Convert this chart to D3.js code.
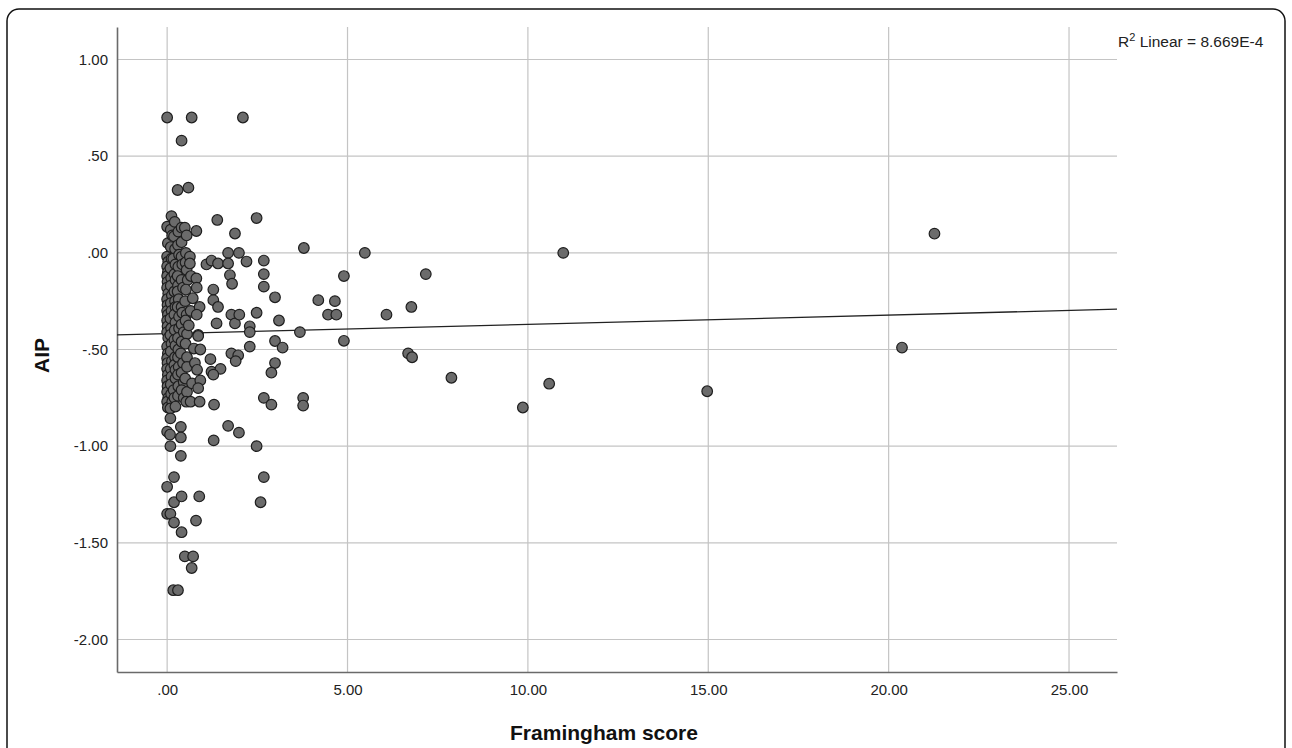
<!DOCTYPE html>
<html>
<head>
<meta charset="utf-8">
<script src="https://cdn.jsdelivr.net/npm/d3@7"></script>
<style>
  body { margin: 0; background: #fff; }
  svg { display: block; font-family: "Liberation Sans", Arial, sans-serif; }
</style>
</head>
<body>
<div id="chart"></div>
<script>
// tick values
const xTicks = [0, 5, 10, 15, 20, 25];
const yTicks = [1, 0.5, 0, -0.5, -1, -1.5, -2];

// fit line (from SPSS output)
const fitIntercept = -0.418;
const fitSlope = 0.0048;
const r2Text = "8.669E-4";

// [Framingham score, AIP]
const scores = [
  // x ~ 0
  [0, 0.70], [0, 0.135], [0.02, 0.05], [0, -0.02], [0.03, -0.045], [0, -0.07], [0.02, -0.1], [0, -0.12],
  [0.01, -0.15], [0, -0.18], [0.03, -0.21], [0, -0.24], [0.01, -0.27], [0, -0.30], [0.02, -0.32],
  [0, -0.35], [0.01, -0.38], [0, -0.41], [0.03, -0.44], [0, -0.485], [0.02, -0.52], [0, -0.545],
  [0.01, -0.57], [0, -0.6], [0.02, -0.63], [0, -0.66], [0.01, -0.69], [0, -0.72], [0.03, -0.75],
  [0, -0.77], [0.02, -0.80], [0, -0.925], [0, -1.21], [0, -1.35],
  // x ~ 0.1
  [0.12, 0.19], [0.1, 0.12], [0.14, 0.09], [0.1, 0.03], [0.12, -0.03], [0.09, -0.08], [0.11, -0.13],
  [0.1, -0.17], [0.13, -0.22], [0.1, -0.26], [0.12, -0.3], [0.09, -0.34], [0.11, -0.39], [0.09, -0.425],
  [0.12, -0.47], [0.1, -0.51], [0.13, -0.56], [0.1, -0.6], [0.12, -0.64], [0.1, -0.68], [0.11, -0.73],
  [0.14, -0.77], [0.09, -0.805], [0.09, -0.856], [0.08, -0.94], [0.09, -1.0], [0.09, -1.35],
  // x ~ 0.2
  [0.21, 0.16], [0.19, 0.085], [0.22, 0.02], [0.17, -0.03], [0.23, -0.06], [0.2, -0.11], [0.23, -0.14],
  [0.2, -0.2], [0.22, -0.25], [0.23, -0.28], [0.2, -0.32], [0.23, -0.36], [0.21, -0.4], [0.2, -0.45],
  [0.23, -0.48], [0.22, -0.54], [0.2, -0.58], [0.23, -0.605], [0.23, -0.65], [0.18, -0.71],
  [0.2, -0.75], [0.23, -0.795], [0.19, -1.16], [0.19, -1.29], [0.19, -1.395], [0.17, -1.745],
  // x ~ 0.3
  [0.29, 0.325], [0.31, 0.11], [0.3, 0.04], [0.33, -0.01], [0.31, -0.072], [0.29, -0.12], [0.3, -0.17],
  [0.29, -0.2], [0.32, -0.24], [0.29, -0.28], [0.33, -0.33], [0.33, -0.39], [0.3, -0.44], [0.31, -0.5],
  [0.3, -0.54], [0.32, -0.59], [0.3, -0.63], [0.31, -0.69], [0.3, -0.74], [0.3, -1.745],
  // x ~ 0.4
  [0.40, 0.58], [0.4, 0.13], [0.4, 0.055], [0.4, -0.02], [0.42, -0.06], [0.4, -0.14], [0.44, -0.18],
  [0.4, -0.28], [0.42, -0.31], [0.4, -0.37], [0.46, -0.41], [0.4, -0.46], [0.38, -0.52], [0.44, -0.57],
  [0.4, -0.62], [0.46, -0.67], [0.4, -0.71], [0.46, -0.75], [0.38, -0.9], [0.38, -0.955],
  [0.38, -1.05], [0.4, -1.26], [0.4, -1.445],
  // x ~ 0.5
  [0.49, 0.13], [0.54, 0.09], [0.52, 0.0], [0.51, -0.05], [0.54, -0.089], [0.57, -0.14], [0.52, -0.19],
  [0.5, -0.25], [0.54, -0.32], [0.51, -0.35], [0.55, -0.42], [0.51, -0.47], [0.55, -0.54], [0.55, -0.59],
  [0.5, -0.65], [0.55, -0.72], [0.53, -0.77], [0.49, -1.57],
  // x ~ 0.6 - 0.7
  [0.59, 0.337], [0.68, 0.70], [0.63, -0.02], [0.63, -0.055], [0.66, -0.12], [0.71, -0.235],
  [0.65, -0.3], [0.6, -0.375], [0.74, -0.495], [0.69, -0.675], [0.65, -0.77], [0.72, -1.57], [0.68, -1.63],
  // x ~ 0.8 - 0.9
  [0.81, 0.113], [0.81, -0.132], [0.82, -0.18], [0.9, -0.28], [0.82, -0.32], [0.86, -0.425],
  [0.86, -0.43], [0.92, -0.5], [0.77, -0.57], [0.83, -0.605], [0.92, -0.66], [0.86, -0.70],
  [0.9, -0.77], [0.89, -1.26], [0.8, -1.385],
  // x 1 - 2.5
  [1.09, -0.06], [1.23, -0.04], [1.41, -0.055], [1.39, 0.17], [1.28, -0.19], [1.28, -0.245],
  [1.41, -0.28], [1.37, -0.365], [1.2, -0.55], [1.23, -0.615], [1.48, -0.6], [1.28, -0.63],
  [1.3, -0.785], [1.29, -0.97], [1.69, 0.0], [1.69, -0.055], [1.74, -0.115], [1.8, -0.16],
  [1.78, -0.32], [1.88, -0.365], [1.78, -0.52], [1.97, -0.53], [1.9, -0.56], [1.69, -0.895],
  [1.88, 0.10], [1.99, 0.0], [2.0, -0.32], [1.99, -0.93], [2.1, 0.70], [2.2, -0.045],
  [2.29, -0.38], [2.29, -0.41], [2.29, -0.485], [2.48, 0.18], [2.48, -0.31], [2.48, -1.0],
  // x 2.5 - 5
  [2.68, -0.04], [2.68, -0.11], [2.68, -0.175], [2.68, -0.75], [2.68, -1.16], [2.59, -1.29],
  [2.99, -0.23], [3.1, -0.35], [2.99, -0.456], [3.2, -0.49], [2.99, -0.57], [2.89, -0.62],
  [2.89, -0.785], [3.79, 0.025], [3.68, -0.41], [3.77, -0.75], [3.77, -0.79],
  [4.19, -0.245], [4.65, -0.25], [4.46, -0.32], [4.69, -0.32], [4.9, -0.12], [4.9, -0.455],
  // x > 5
  [5.48, 0.0], [6.08, -0.32], [6.77, -0.28], [6.68, -0.52], [6.79, -0.54], [7.17, -0.11],
  [7.88, -0.646], [9.86, -0.80], [10.59, -0.677], [10.98, 0.0], [14.97, -0.716],
  [20.37, -0.49], [21.27, 0.099]
];

const W = 1292, H = 748;
const plot = {left: 117, right: 1117, top: 27, bottom: 672};

const svg = d3.select("#chart").append("svg")
  .attr("width", W)
  .attr("height", H);

// outer frame with rounded corners
svg.append("rect")
  .attr("x", 7).attr("y", 9)
  .attr("width", 1278).attr("height", 760)
  .attr("rx", 12)
  .style("fill", "none")
  .style("stroke", "#111")
  .style("stroke-width", 1.5);

const x = d3.scaleLinear()
  .domain([-1.39, 26.33])
  .range([plot.left, plot.right]);

const y = d3.scaleLinear()
  .domain([-2.168, 1.168])
  .range([plot.bottom, plot.top]);

// SPSS style: no leading zero, plain hyphen
const fmt = d => {
  let s = d3.format(".2f")(d).replace("\u2212", "-");
  return s.replace(/^(-?)0\./, "$1.");
};

// grid
const grid = svg.append("g");
grid.selectAll("line.h").data(yTicks).join("line")
  .attr("class", "h")
  .attr("x1", plot.left).attr("x2", plot.right)
  .attr("y1", d => y(d)).attr("y2", d => y(d))
  .style("stroke", "#c4c4c4").style("stroke-width", 1.2);
grid.selectAll("line.v").data(xTicks).join("line")
  .attr("class", "v")
  .attr("y1", plot.top).attr("y2", plot.bottom)
  .attr("x1", d => x(d)).attr("x2", d => x(d))
  .style("stroke", "#c4c4c4").style("stroke-width", 1.2);

// axes
const xAxis = svg.append("g")
  .attr("transform", `translate(0,${plot.bottom})`)
  .call(d3.axisBottom(x).tickValues(xTicks).tickFormat(fmt).tickSize(0).tickPadding(12));
const yAxis = svg.append("g")
  .attr("transform", `translate(${plot.left},0)`)
  .call(d3.axisLeft(y).tickValues(yTicks).tickFormat(fmt).tickSize(0).tickPadding(9));
[xAxis, yAxis].forEach(a => {
  a.select(".domain").style("stroke", "#6a6a6a").style("stroke-width", 1.6);
  a.selectAll("text")
    .style("font-family", "'Liberation Sans', Arial, sans-serif")
    .style("font-size", "15px")
    .style("fill", "#222");
});

// fit line
svg.append("line")
  .attr("x1", x(x.domain()[0])).attr("y1", y(fitIntercept + fitSlope * x.domain()[0]))
  .attr("x2", x(x.domain()[1])).attr("y2", y(fitIntercept + fitSlope * x.domain()[1]))
  .style("stroke", "#222")
  .style("stroke-width", 1.3);

// points
svg.append("g").selectAll("circle").data(scores).join("circle")
  .attr("cx", d => x(d[0]))
  .attr("cy", d => y(d[1]))
  .attr("r", 5.3)
  .style("fill", "#6b6b6b")
  .style("stroke", "#1e1e1e")
  .style("stroke-width", 1.2);

// axis titles
svg.append("text")
  .attr("x", 604)
  .attr("y", 740)
  .attr("text-anchor", "middle")
  .style("font-size", "21px")
  .style("font-weight", "bold")
  .style("fill", "#111")
  .text("Framingham score");

svg.append("text")
  .attr("transform", `translate(49,${(plot.top + plot.bottom) / 2 + 6}) rotate(-90)`)
  .attr("text-anchor", "middle")
  .style("font-size", "21px")
  .style("font-weight", "bold")
  .style("fill", "#111")
  .text("AIP");

// R squared note
const r2 = svg.append("text")
  .attr("x", 1118)
  .attr("y", 47)
  .style("font-size", "15.5px")
  .style("fill", "#222");
r2.append("tspan").text("R");
r2.append("tspan").attr("dy", -6).style("font-size", "11px").text("2");
r2.append("tspan").attr("dy", 6).text(" Linear = " + r2Text);
</script>
</body>
</html>
